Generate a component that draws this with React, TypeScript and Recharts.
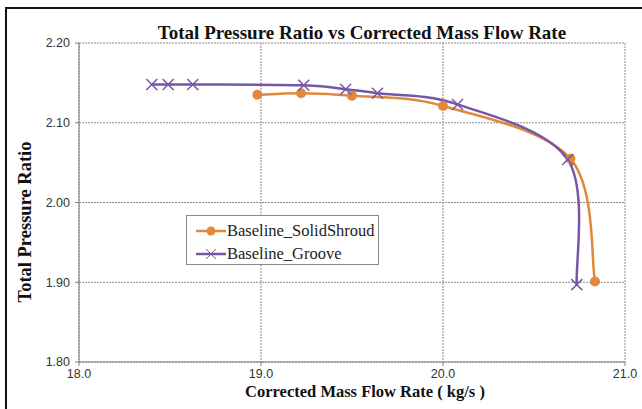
import React from 'react';
import { LineChart, Line, XAxis, YAxis, CartesianGrid, Legend } from 'recharts';

// Corrected mass flow rate (kg/s) and total pressure ratio for each configuration
const solidFlow = [18.98, 19.22, 19.5, 20.0, 20.7, 20.835];
const solidRatio = [2.135, 2.137, 2.134, 2.121, 2.055, 1.901];

const grooveFlow = [18.4, 18.49, 18.625, 19.235, 19.465, 19.64, 20.08, 20.685, 20.735];
const grooveRatio = [2.148, 2.148, 2.148, 2.147, 2.142, 2.137, 2.123, 2.054, 1.897];

const flowTicks = [18, 19, 20, 21];
const ratioTicks = [1.8, 1.9, 2.0, 2.1, 2.2];

const seriesNames = ['Baseline_SolidShroud', 'Baseline_Groove'];

const ORANGE = '#E3883A';
const PURPLE = '#7657A3';
const SERIF = '"Liberation Serif", "Times New Roman", serif';
const SANS = '"Liberation Sans", Arial, sans-serif';

const solidData = solidFlow.map((x, i) => ({ x, y: solidRatio[i] }));
const grooveData = grooveFlow.map((x, i) => ({ x, y: grooveRatio[i] }));

// Smoothed line through every point (cardinal spline, like spreadsheet "smoothed lines")
const smoothCurve = (context: any) => {
  let pts: number[][] = [];
  return {
    areaStart() {},
    areaEnd() {},
    lineStart() {
      pts = [];
    },
    point(x: number, y: number) {
      pts.push([+x, +y]);
    },
    lineEnd() {
      if (!pts.length) return;
      context.moveTo(pts[0][0], pts[0][1]);
      for (let i = 0; i < pts.length - 1; i++) {
        const p0 = pts[Math.max(i - 1, 0)];
        const p1 = pts[i];
        const p2 = pts[i + 1];
        const p3 = pts[Math.min(i + 2, pts.length - 1)];
        context.bezierCurveTo(
          p1[0] + (p2[0] - p0[0]) / 6,
          p1[1] + (p2[1] - p0[1]) / 6,
          p2[0] - (p3[0] - p1[0]) / 6,
          p2[1] - (p3[1] - p1[1]) / 6,
          p2[0],
          p2[1]
        );
      }
    },
  };
};

const CrossDot = (props: any) => {
  const { cx, cy } = props;
  if (cx == null || cy == null) return null;
  const s = 5.5;
  return (
    <g>
      <line x1={cx - s} y1={cy - s} x2={cx + s} y2={cy + s} stroke={PURPLE} strokeWidth={1.5} />
      <line x1={cx - s} y1={cy + s} x2={cx + s} y2={cy - s} stroke={PURPLE} strokeWidth={1.5} />
    </g>
  );
};

const LegendBox = () => (
  <div
    style={{
      width: 193,
      height: 50,
      boxSizing: 'border-box',
      border: '1px solid #8a8a8a',
      background: '#fff',
      fontFamily: SERIF,
      fontSize: 16.5,
      color: '#222',
      padding: '3px 0 0 9px',
    }}
  >
    <div style={{ display: 'flex', alignItems: 'center', height: 23 }}>
      <svg width={30} height={12} style={{ marginRight: 1 }}>
        <line x1={0} y1={6} x2={30} y2={6} stroke={ORANGE} strokeWidth={2.5} />
        <circle cx={15} cy={6} r={4.5} fill={ORANGE} />
      </svg>
      <span>{seriesNames[0]}</span>
    </div>
    <div style={{ display: 'flex', alignItems: 'center', height: 23 }}>
      <svg width={30} height={12} style={{ marginRight: 1 }}>
        <line x1={0} y1={6} x2={30} y2={6} stroke={PURPLE} strokeWidth={2.5} />
        <line x1={10} y1={1} x2={20} y2={11} stroke={PURPLE} strokeWidth={1} />
        <line x1={10} y1={11} x2={20} y2={1} stroke={PURPLE} strokeWidth={1} />
      </svg>
      <span>{seriesNames[1]}</span>
    </div>
  </div>
);

export default function App() {
  return (
    <div
      style={{
        position: 'absolute',
        left: 0,
        top: 0,
        width: 642,
        height: 409,
        overflow: 'hidden',
        background: '#fff',
      }}
    >
      <div
        style={{
          position: 'absolute',
          left: 5,
          top: 7,
          width: 700,
          height: 500,
          borderLeft: '2px solid #111',
          borderTop: '2px solid #111',
        }}
      />
      <LineChart
        width={642}
        height={409}
        margin={{ top: 43, right: 17, bottom: 0, left: 0 }}
      >
        <CartesianGrid stroke="#8c8c8c" strokeDasharray="2 1" />
        <XAxis
          dataKey="x"
          type="number"
          domain={[18, 21]}
          ticks={flowTicks}
          tickFormatter={(v) => v.toFixed(1)}
          height={47}
          stroke="#808080"
          tickSize={4}
          tickMargin={3}
          tick={{ fill: '#333', fontSize: 12.5, fontFamily: SANS }}
          allowDataOverflow
        />
        <YAxis
          dataKey="y"
          type="number"
          domain={[1.8, 2.2]}
          ticks={ratioTicks}
          tickFormatter={(v) => v.toFixed(2)}
          width={79}
          stroke="#808080"
          tickSize={4}
          tickMargin={5}
          tick={{ fill: '#333', fontSize: 12.5, fontFamily: SANS }}
          allowDataOverflow
        />
        <Legend
          layout="vertical"
          align="center"
          verticalAlign="middle"
          content={<LegendBox />}
          wrapperStyle={{ left: 186, top: 215, width: 193, height: 50 }}
        />
        <Line
          data={solidData}
          dataKey="y"
          name={seriesNames[0]}
          type={smoothCurve as any}
          stroke={ORANGE}
          strokeWidth={2.5}
          dot={{ r: 5, fill: ORANGE, stroke: ORANGE, strokeWidth: 0 }}
          activeDot={false}
          isAnimationActive={false}
        />
        <Line
          data={grooveData}
          dataKey="y"
          name={seriesNames[1]}
          type={smoothCurve as any}
          stroke={PURPLE}
          strokeWidth={2.5}
          dot={<CrossDot />}
          activeDot={false}
          isAnimationActive={false}
        />
      </LineChart>
      <div
        style={{
          position: 'absolute',
          left: 362,
          top: 33,
          transform: 'translate(-50%, -50%)',
          whiteSpace: 'nowrap',
          fontFamily: SERIF,
          fontWeight: 'bold',
          fontSize: 19,
          color: '#111',
        }}
      >
        Total Pressure Ratio vs Corrected Mass Flow Rate
      </div>
      <div
        style={{
          position: 'absolute',
          left: 365,
          top: 392,
          transform: 'translate(-50%, -50%)',
          whiteSpace: 'nowrap',
          fontFamily: SERIF,
          fontWeight: 'bold',
          fontSize: 16.5,
          color: '#111',
        }}
      >
        Corrected Mass Flow Rate ( kg/s )
      </div>
      <div
        style={{
          position: 'absolute',
          left: 25,
          top: 222,
          transform: 'translate(-50%, -50%) rotate(-90deg)',
          whiteSpace: 'nowrap',
          fontFamily: SERIF,
          fontWeight: 'bold',
          fontSize: 18.5,
          color: '#111',
        }}
      >
        Total Pressure Ratio
      </div>
    </div>
  );
}
